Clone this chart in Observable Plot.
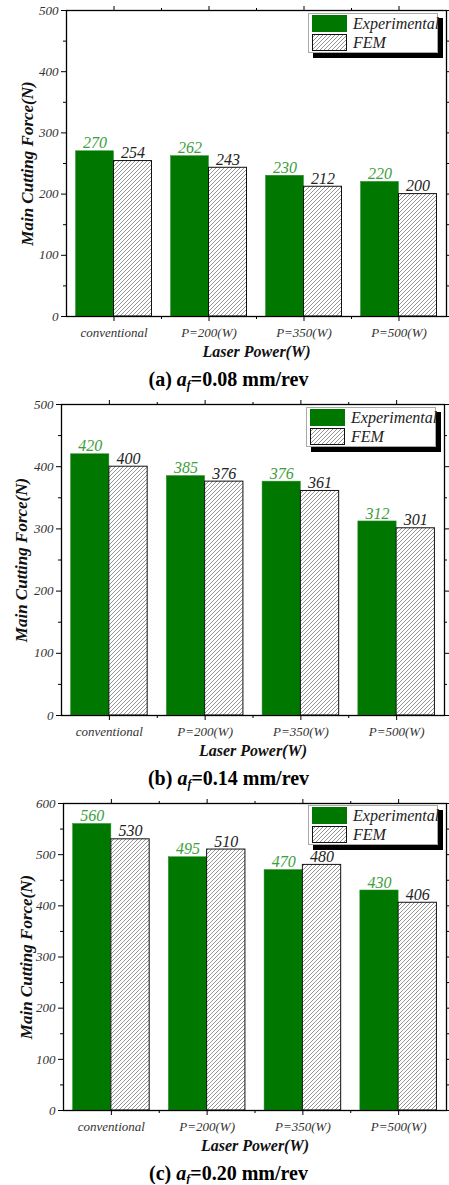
<!DOCTYPE html>
<html><head><meta charset="utf-8">
<script src="https://cdn.jsdelivr.net/npm/d3@7"></script>
<script src="https://cdn.jsdelivr.net/npm/@observablehq/plot@0.6"></script>
<style>
body{margin:0;background:#fff;width:449px;overflow:hidden;}
.panel{position:relative;width:449px;}
.panel svg{display:block;}
.panel svg text{font-family:"Liberation Serif","Times New Roman",serif !important;}
.caption{font-family:"Liberation Serif","Times New Roman",serif;font-weight:bold;font-size:20px;text-align:center;height:22px;line-height:22px;color:#000;padding-left:8px;box-sizing:border-box;width:449px;}
.caption sub{font-size:12px;font-style:italic;vertical-align:-3px;}
.legend{position:absolute;width:130px;height:40px;background:#fff;border:1px solid #aaa;box-sizing:border-box;box-shadow:5px 5px 0 #000;font-family:"Liberation Serif","Times New Roman",serif;font-style:italic;font-size:16px;color:#222;}
.legend .row{position:absolute;left:3px;height:17px;display:flex;align-items:center;}
.legend .sw{width:35px;height:17px;box-sizing:border-box;margin-right:6px;flex:none;}
.legend svg{display:block;}
[aria-label$="tick label"]{fill:#333;}
</style></head><body>
<svg width="0" height="0" style="position:absolute">
  <defs>
    <pattern id="hatch" patternUnits="userSpaceOnUse" width="4" height="4">
      <rect width="4" height="4" fill="#fff"/>
      <path d="M-1,1 l2,-2 M0,4 l4,-4 M3,5 l2,-2" stroke="#666" stroke-width="0.7"/>
    </pattern>
  </defs>
</svg>
<div id="root"></div>
<script>
// ---- data ----
const categories = ["conventional", "P=200(W)", "P=350(W)", "P=500(W)"];
const series = ["Experimental", "FEM"];
const expA = [270, 262, 230, 220];
const femA = [254, 243, 212, 200];
const expB = [420, 385, 376, 312];
const femB = [400, 376, 361, 301];
const expC = [560, 495, 470, 430];
const femC = [530, 510, 480, 406];
const yTicksAB = [0, 100, 200, 300, 400, 500];
const yTicksC = [0, 100, 200, 300, 400, 500, 600];
const yLabel = "Main Cutting Force(N)";
const xLabel = "Laser Power(W)";
const captionTags = ["(a)", "(b)", "(c)"];
const feedRates = ["0.08", "0.14", "0.20"];

// ---- style ----
const GREEN = "#007800";
const GREEN_TEXT = "#3c9e3c";
const FONT = "'Liberation Serif', 'Times New Roman', serif";
const BAR = 0.4; // bar width in category units

const panels = [
  {exp: expA, fem: femA, yTicks: yTicksAB, height: 368, mt: 10, ml: 66, mr: 3, ylDx: -39, legTop: 3, legLeft: 308},
  {exp: expB, fem: femB, yTicks: yTicksAB, height: 377, mt: 14, ml: 61, mr: 5, ylDx: -40, legTop: 3, legLeft: 306},
  {exp: expC, fem: femC, yTicks: yTicksC, height: 373, mt: 14, ml: 63, mr: 3, ylDx: -37, legTop: 2, legLeft: 308}
];

const root = document.getElementById("root");

panels.forEach((p, k) => {
  const rows = categories.flatMap((c, i) => [
    {cat: c, series: series[0], value: p.exp[i], pos: i + 1},
    {cat: c, series: series[1], value: p.fem[i], pos: i + 1}
  ]);
  const x1 = d => d.series === series[0] ? d.pos - BAR : d.pos;
  const x2 = d => d.series === series[0] ? d.pos : d.pos + BAR;
  const xc = d => d.series === series[0] ? d.pos - BAR / 2 : d.pos + BAR / 2;
  const yMax = p.yTicks[p.yTicks.length - 1];
  const minorY = p.yTicks.slice(1).map(v => v - 50);
  const majorX = categories.map((c, i) => i + 1);
  const minorX = categories.slice(1).map((c, i) => i + 1.5);
  const axisFont = {fontFamily: FONT, fontStyle: "italic", fontSize: 13};

  const chart = Plot.plot({
    width: 449,
    height: p.height,
    marginTop: p.mt,
    marginBottom: 52,
    marginLeft: p.ml,
    marginRight: p.mr,
    style: {fontFamily: FONT, background: "transparent", overflow: "visible"},
    x: {type: "linear", domain: [0.5, categories.length + 0.5], axis: null},
    y: {domain: [0, yMax], axis: null},
    marks: [
      Plot.rectY(rows.filter(d => d.series === series[0]), {x1, x2, y: "value", fill: GREEN, stroke: "#2f8f2f", strokeWidth: 0.5}),
      Plot.rectY(rows.filter(d => d.series === series[1]), {x1, x2, y: "value", fill: "url(#hatch)", stroke: "#111", strokeWidth: 1}),
      Plot.text(rows.filter(d => d.series === series[0]), {x: xc, y: "value", text: d => String(d.value), dy: -8, fill: GREEN_TEXT, fontFamily: FONT, fontStyle: "italic", fontSize: 16}),
      Plot.text(rows.filter(d => d.series === series[1]), {x: xc, y: "value", text: d => String(d.value), dy: -8, fill: "#222", fontFamily: FONT, fontStyle: "italic", fontSize: 16}),
      Plot.frame({stroke: "#000", strokeWidth: 1.3}),
      Plot.axisX({anchor: "bottom", ticks: majorX, tickFormat: i => categories[i - 1], tickSize: 5, tickPadding: 6, label: null, ...axisFont}),
      Plot.axisX({anchor: "bottom", ticks: minorX, tickFormat: () => "", tickSize: 3, label: null}),
      Plot.axisX({anchor: "top", ticks: majorX, tickFormat: () => "", tickSize: 5, label: null}),
      Plot.axisX({anchor: "top", ticks: minorX, tickFormat: () => "", tickSize: 3, label: null}),
      Plot.axisY({anchor: "left", ticks: p.yTicks, tickSize: 5, tickPadding: 3, label: null, ...axisFont}),
      Plot.axisY({anchor: "left", ticks: minorY, tickFormat: () => "", tickSize: 3, label: null}),
      Plot.axisY({anchor: "right", ticks: p.yTicks, tickFormat: () => "", tickSize: 4, label: null}),
      Plot.axisY({anchor: "right", ticks: minorY, tickFormat: () => "", tickSize: 2, label: null}),
      Plot.text([yLabel], {frameAnchor: "left", textAnchor: "middle", rotate: -90, dx: p.ylDx, text: d => d, fontFamily: FONT, fontWeight: "bold", fontStyle: "italic", fontSize: 17, fill: "#111"}),
      Plot.text([xLabel], {frameAnchor: "bottom", textAnchor: "middle", dy: 40, text: d => d, fontFamily: FONT, fontWeight: "bold", fontStyle: "italic", fontSize: 16, fill: "#111"})
    ]
  });

  const panel = document.createElement("div");
  panel.className = "panel";
  panel.appendChild(chart);

  // legend
  const leg = document.createElement("div");
  leg.className = "legend";
  leg.style.left = p.legLeft + "px";
  leg.style.top = (p.mt + p.legTop) + "px";
  leg.innerHTML =
    `<div class="row" style="top:1px"><div class="sw" style="background:${GREEN}"></div><span>${series[0]}</span></div>` +
    `<div class="row" style="top:20px"><svg class="sw" width="35" height="17"><rect x="0.5" y="0.5" width="34" height="16" fill="url(#hatch)" stroke="#111"/></svg><span>${series[1]}</span></div>`;
  panel.appendChild(leg);
  root.appendChild(panel);

  const cap = document.createElement("div");
  cap.className = "caption";
  cap.innerHTML = `${captionTags[k]} <i>a</i><sub>f</sub>=${feedRates[k]} mm/rev`;
  root.appendChild(cap);
});
</script>
</body></html>
